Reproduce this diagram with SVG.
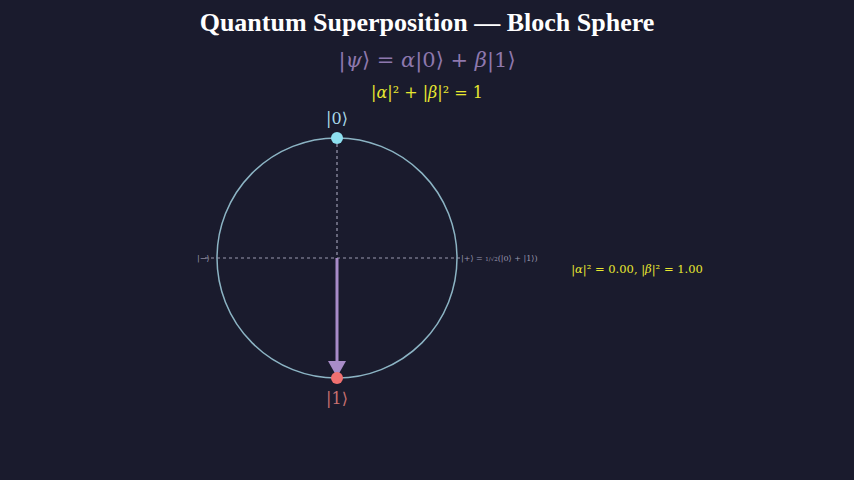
<svg xmlns="http://www.w3.org/2000/svg" width="854" height="480" viewBox="0 0 854 480">
<style>
.m{font-family:"DejaVu Serif","Liberation Serif",serif}
.i{font-style:italic}
.ax{stroke:#9a9ab0;stroke-width:1.2;stroke-dasharray:3 3;fill:none}
</style>
<rect width="854" height="480" fill="#1a1b2d"/>
<text x="427" y="31" text-anchor="middle" font-family="Liberation Serif,serif" font-weight="bold" font-size="26" fill="#ffffff">Quantum Superposition — Bloch Sphere</text>
<text x="427" y="67" text-anchor="middle" class="m" font-size="21" fill="#8e78ad">|<tspan class="i">ψ</tspan>⟩ = <tspan class="i">α</tspan>|0⟩ + <tspan class="i">β</tspan>|1⟩</text>
<text x="427" y="98" text-anchor="middle" class="m" font-size="16" fill="#e8e830">|<tspan class="i">α</tspan>|² + |<tspan class="i">β</tspan>|² = 1</text>
<g id="sphere">
<circle cx="337" cy="258" r="120" fill="none" stroke="#8cb4c4" stroke-width="1.5"/>
</g>
<g id="connectors">
<line class="ax" x1="337" y1="138" x2="337" y2="378"/>
<line class="ax" x1="205" y1="258" x2="462" y2="258"/>
<line x1="337" y1="258" x2="337" y2="364" stroke="#a88cc8" stroke-width="3"/>
<path d="M328,361 L346,361 L337,377 Z" fill="#a88cc8"/>
</g>
<g id="ket0">
<circle cx="337" cy="138" r="6" fill="#8ee0f0"/>
<text x="337" y="124" text-anchor="middle" class="m" font-size="16" fill="#a8d8e8">|0⟩</text>
</g>
<g id="ket1">
<circle cx="337" cy="378" r="6" fill="#f07070"/>
<text x="337" y="404" text-anchor="middle" class="m" font-size="16" fill="#c87070">|1⟩</text>
</g>
<g id="minus"><text x="197" y="261" class="m" font-size="8" fill="#9a9ab0">|−⟩</text></g>
<g id="plus"><text x="461" y="261" class="m" font-size="8" fill="#9a9ab0">|+⟩ = <tspan font-size="5.5">1/√2</tspan>(|0⟩ + |1⟩)</text></g>
<g id="probs"><text x="637" y="273" text-anchor="middle" class="m" font-size="11.5" fill="#e8e830">|<tspan class="i">α</tspan>|² = 0.00,  |<tspan class="i">β</tspan>|² = 1.00</text></g>
</svg>
